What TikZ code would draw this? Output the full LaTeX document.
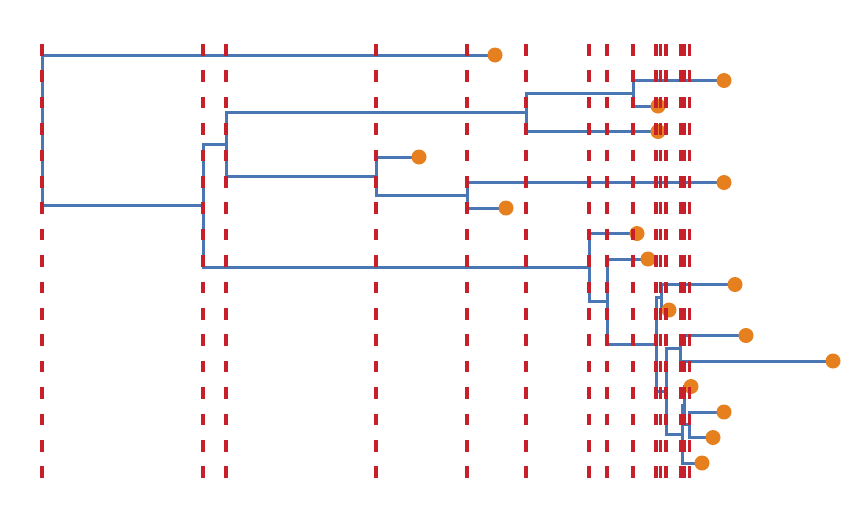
\documentclass[tikz,border=0pt]{standalone}
\begin{document}
\begin{tikzpicture}[x=1pt,y=-1pt,
  edge/.style={draw=treeblue,line width=3pt,line join=miter},
  guide/.style={draw=guidered,line width=3.1pt,dash pattern=on 11.5pt off 14.9pt},
  leafdot/.style={circle,fill=leaforange,inner sep=0pt,minimum size=15pt}]
\definecolor{treeblue}{HTML}{4A77B4}
\definecolor{leaforange}{HTML}{E6801F}
\definecolor{guidered}{HTML}{C8202A}
\useasboundingbox (0,0) rectangle (853,528);
% leaves
\coordinate (L1) at (495,55);
\coordinate (L2) at (724,80.5);
\coordinate (L3) at (658,106);
\coordinate (L4) at (658,131.5);
\coordinate (L5) at (419,157);
\coordinate (L6) at (724,182.5);
\coordinate (L7) at (506,208);
\coordinate (L8) at (637,233.5);
\coordinate (L9) at (648,259);
\coordinate (L10) at (735,284.5);
\coordinate (L11) at (669,310);
\coordinate (L12) at (746,335.5);
\coordinate (L13) at (833,361);
\coordinate (L14) at (691,386.5);
\coordinate (L15) at (724,412);
\coordinate (L16) at (713,437.5);
\coordinate (L17) at (702,463);
% internal nodes
\coordinate (root) at (42,130.45);
\coordinate (n203) at (203,205.91);
\coordinate (n226) at (226,144.25);
\coordinate (n526) at (526,112.375);
\coordinate (n633) at (633,93.25);
\coordinate (n376) at (376,176.125);
\coordinate (n467) at (467,195.25);
\coordinate (n589) at (589,267.57);
\coordinate (n607) at (607,301.63);
\coordinate (n656) at (656,344.27);
\coordinate (n661) at (661,297.25);
\coordinate (n666) at (666,391.28);
\coordinate (n681) at (680.7,348.25);
\coordinate (n682) at (682.7,434.31);
\coordinate (n685) at (684.9,405.63);
\coordinate (n689) at (689.2,424.75);
% edges
\draw[edge] (root) |- (L1);
\draw[edge] (root) |- (n203);
\draw[edge] (n203) |- (n226);
\draw[edge] (n203) |- (n589);
\draw[edge] (n226) |- (n526);
\draw[edge] (n226) |- (n376);
\draw[edge] (n526) |- (n633);
\draw[edge] (n526) |- (L4);
\draw[edge] (n633) |- (L2);
\draw[edge] (n633) |- (L3);
\draw[edge] (n376) |- (L5);
\draw[edge] (n376) |- (n467);
\draw[edge] (n467) |- (L6);
\draw[edge] (n467) |- (L7);
\draw[edge] (n589) |- (L8);
\draw[edge] (n589) |- (n607);
\draw[edge] (n607) |- (L9);
\draw[edge] (n607) |- (n656);
\draw[edge] (n656) |- (n661);
\draw[edge] (n656) |- (n666);
\draw[edge] (n661) |- (L10);
\draw[edge] (n661) |- (L11);
\draw[edge] (n666) |- (n681);
\draw[edge] (n666) |- (n682);
\draw[edge] (n681) |- (L12);
\draw[edge] (n681) |- (L13);
\draw[edge] (n682) |- (n685);
\draw[edge] (n682) |- (L17);
\draw[edge] (n685) |- (L14);
\draw[edge] (n685) |- (n689);
\draw[edge] (n689) |- (L15);
\draw[edge] (n689) |- (L16);
% leaf dots
\foreach \i in {1,...,17} \node[leafdot] (D\i) at (L\i) {};
% guide lines
\foreach \gx in {42,203,226,376,467,526,589,607,633,656,660.7,666,680.7,682.7,684.9,689.2}
  \draw[guide] (\gx,44) -- (\gx,479);
\end{tikzpicture}
\end{document}
